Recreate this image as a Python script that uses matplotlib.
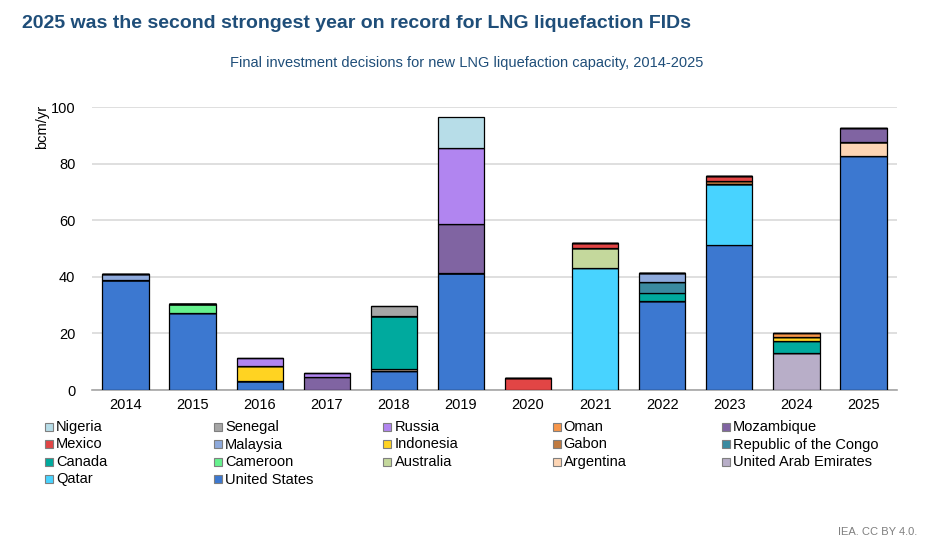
import matplotlib.pyplot as plt
import numpy as np
from matplotlib.patches import Rectangle

plt.rcParams['font.family'] = ['Liberation Sans', 'DejaVu Sans']

# --- Data (bcm/yr) -----------------------------------------------------------
years = ["2014", "2015", "2016", "2017", "2018", "2019",
         "2020", "2021", "2022", "2023", "2024", "2025"]

# stacking order, bottom to top
countries = ["United States", "Qatar", "United Arab Emirates", "Argentina",
             "Australia", "Cameroon", "Canada", "Republic of the Congo",
             "Gabon", "Indonesia", "Malaysia", "Mexico", "Mozambique",
             "Oman", "Russia", "Senegal", "Nigeria"]

united_states = [39.0, 27.2, 3.2, 0, 6.7, 41.3, 0, 0, 31.5, 51.2, 0, 82.9]
qatar = [0, 0, 0, 0, 0, 0, 0, 43.3, 0, 21.6, 0, 0]
uae = [0, 0, 0, 0, 0, 0, 0, 0, 0, 0, 13.0, 0]
argentina = [0, 0, 0, 0, 0.6, 0, 0, 0, 0, 0, 0, 4.7]
australia = [0, 0, 0, 0, 0, 0, 0, 6.8, 0, 0, 0, 0]
cameroon = [0, 3.3, 0, 0, 0, 0, 0, 0, 0, 0, 0, 0]
canada = [0, 0, 0, 0, 18.9, 0, 0, 0, 2.9, 0, 4.2, 0]
congo = [0, 0, 0, 0, 0, 0, 0, 0, 3.9, 0, 0, 0]
gabon = [0, 0, 0, 0, 0, 0, 0, 0, 0, 1.0, 0, 0]
indonesia = [0, 0, 5.2, 0, 0, 0, 0, 0, 0, 0, 1.7, 0]
malaysia = [2.0, 0, 0, 0, 0, 0, 0, 0, 3.0, 0, 0, 0]
mexico = [0, 0, 0, 0, 0, 0, 4.4, 2.0, 0, 2.0, 0, 0]
mozambique = [0, 0, 0, 4.5, 0, 17.4, 0, 0, 0, 0, 0, 5.1]
oman = [0, 0, 0, 0, 0, 0, 0, 0, 0, 0, 1.3, 0]
russia = [0, 0, 3.0, 1.4, 0, 26.8, 0, 0, 0, 0, 0, 0]
senegal = [0, 0, 0, 0, 3.5, 0, 0, 0, 0, 0, 0, 0]
nigeria = [0, 0, 0, 0, 0, 11.2, 0, 0, 0, 0, 0, 0]

series = [united_states, qatar, uae, argentina, australia, cameroon, canada,
          congo, gabon, indonesia, malaysia, mexico, mozambique, oman,
          russia, senegal, nigeria]

colors = {
    "United States": "#3c78d0",
    "Qatar": "#48d3ff",
    "United Arab Emirates": "#b8aec8",
    "Argentina": "#fdd5b4",
    "Australia": "#c4d89c",
    "Cameroon": "#66f28e",
    "Canada": "#00aa9e",
    "Republic of the Congo": "#3a8aa0",
    "Gabon": "#c07a40",
    "Indonesia": "#ffd322",
    "Malaysia": "#8eaadc",
    "Mexico": "#e24545",
    "Mozambique": "#8064a2",
    "Oman": "#f7964a",
    "Russia": "#b185f0",
    "Senegal": "#a6a6a6",
    "Nigeria": "#b7dde8",
}

# --- Figure ------------------------------------------------------------------
W, H = 929, 555
fig = plt.figure(figsize=(W / 100, H / 100), dpi=100)
ax = fig.add_axes([92 / W, 1 - 390 / H, (897 - 92) / W, (390 - 107.3) / H])

x = np.arange(len(years))
bottom = np.zeros(len(years))
for name, vals in zip(countries, series):
    vals = np.array(vals, dtype=float)
    ax.bar(x, vals, bottom=bottom, width=0.69, color=colors[name],
           edgecolor="black", linewidth=0.9, zorder=3)
    bottom += vals

ax.set_xlim(-0.5, len(years) - 0.5)
ax.set_ylim(0, 100)
ax.set_yticks(np.arange(0, 101, 20))
ax.set_xticks(x)
ax.set_xticklabels(years)
ax.tick_params(axis="both", length=0, labelsize=10.5, colors="black")
ax.tick_params(axis="y", pad=12)
ax.tick_params(axis="x", pad=6)
ax.grid(axis="y", color="#d9d9d9", linewidth=1.2, zorder=0)
for side in ["top", "right", "left"]:
    ax.spines[side].set_visible(False)
ax.spines["bottom"].set_color("#a6a6a6")
ax.spines["bottom"].set_linewidth(1.2)

fig.text(42 / W, 1 - 127 / H, "bcm/yr", rotation=90, ha="center",
         va="center", fontsize=10.5)

# --- Titles ------------------------------------------------------------------
fig.text(22 / W, 1 - 24 / H,
         "2025 was the second strongest year on record for LNG liquefaction FIDs",
         fontsize=14, fontweight="bold", color="#1f4e79", va="center")
fig.text(467 / W, 1 - 63 / H,
         "Final investment decisions for new LNG liquefaction capacity, 2014-2025",
         fontsize=10.5, color="#1f4e79", ha="center", va="center")
fig.text(917 / W, 1 - 532 / H, "IEA. CC BY 4.0.", fontsize=8,
         color="#7f7f7f", ha="right", va="center")

# --- Legend (row-wise, 5 columns) -------------------------------------------
legend_order = ["Nigeria", "Senegal", "Russia", "Oman", "Mozambique",
                "Mexico", "Malaysia", "Indonesia", "Gabon",
                "Republic of the Congo", "Canada", "Cameroon", "Australia",
                "Argentina", "United Arab Emirates", "Qatar", "United States"]
for i, name in enumerate(legend_order):
    row, col = divmod(i, 5)
    sx = 45 + col * 169.25
    sy = 427 + row * 17.5
    fig.patches.append(Rectangle((sx / W, 1 - (sy + 3.5) / H), 8 / W, 8 / H,
                                 transform=fig.transFigure,
                                 facecolor=colors[name], edgecolor="#7f7f7f",
                                 linewidth=0.8))
    fig.text((sx + 11) / W, 1 - sy / H, name, fontsize=10.5, va="center")

fig.savefig("out.png", dpi=100)
